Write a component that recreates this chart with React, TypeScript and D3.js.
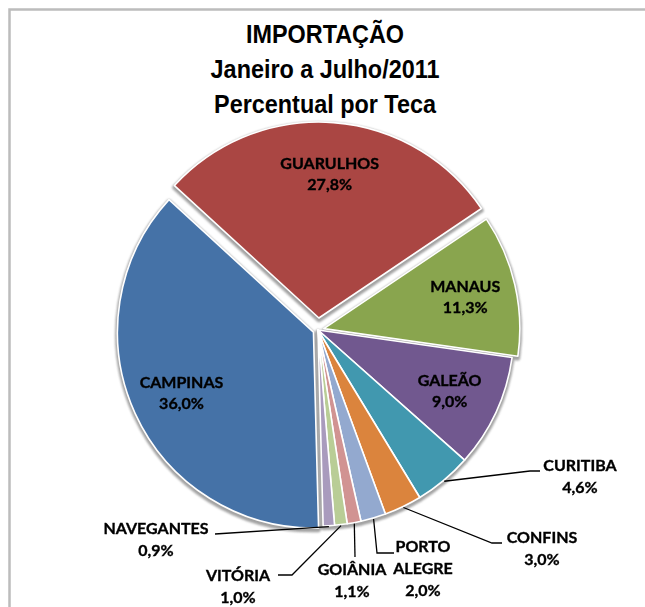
import * as d3 from "d3";

// data
const categories = ["CAMPINAS", "GUARULHOS", "MANAUS", "GALEÃO", "CURITIBA", "CONFINS", "PORTO ALEGRE", "GOIÂNIA", "VITÓRIA", "NAVEGANTES"];
const shares = [36.0, 27.8, 11.3, 9.0, 4.6, 3.0, 2.0, 1.1, 1.0, 0.9];
const titleLines = ["IMPORTAÇÃO", "Janeiro a Julho/2011", "Percentual por Teca"];

// styling
const colors = ["#4572A7", "#AA4643", "#89A54E", "#71588F", "#4198AF", "#DB843D", "#93A9CF", "#D19392", "#B9CD96", "#A99BBD"];
const explode = [5, 12, 6, 0, 0, 0, 0, 0, 0, 0];

const width = 645;
const height = 607;
const cx = 318;
const cy = 330;
const R = 196;

// labels drawn outside the pie, with their leader line bends
const callouts: Record<string, { x: number; y: number; pts: [number, number][]; lines?: string[] }> = {
  CURITIBA: { x: 580, y: 471, pts: [[530, 471], [540, 471]] },
  CONFINS: { x: 542, y: 543, pts: [[492, 543], [502, 543]] },
  "PORTO ALEGRE": { x: 423, y: 552, pts: [[377, 553], [394, 553]], lines: ["PORTO", "ALEGRE"] },
  "GOIÂNIA": { x: 352, y: 575, pts: [[355, 557]] },
  "VITÓRIA": { x: 238, y: 581, pts: [[292, 575], [278, 575]] },
  NAVEGANTES: { x: 156, y: 534, pts: [[215, 534]] },
};

const fmt = (v: number) => d3.format(".1f")(v).replace(".", ",") + "%";
const labelFont = "Lato, 'Open Sans', sans-serif";
const titleFont = "'Liberation Sans', Arial, sans-serif";

export default function App() {
  const start = (178.5 * Math.PI) / 180;
  const pie = d3.pie<number>().sort(null).startAngle(start).endAngle(start + 2 * Math.PI);
  const arcs = pie(shares);
  const arc = d3.arc<d3.PieArcDatum<number>>().innerRadius(0).outerRadius(R);
  const labelArc = d3.arc<d3.PieArcDatum<number>>().innerRadius(R * 0.74).outerRadius(R * 0.74);

  const offset = (a: d3.PieArcDatum<number>, i: number) => {
    const mid = (a.startAngle + a.endAngle) / 2;
    return [Math.sin(mid) * explode[i], -Math.cos(mid) * explode[i]];
  };

  return (
    <svg width={width} height={height} style={{ position: "fixed", left: 0, top: 0, background: "#fff" }}>
      <defs>
        <filter id="shadow" x="-10%" y="-10%" width="120%" height="120%">
          <feGaussianBlur stdDeviation="1" />
        </filter>
      </defs>
      <rect x={9.5} y={9.5} width={700} height={700} fill="none" stroke="#bcbcbc" strokeWidth={2.5} />

      {titleLines.map((t, i) => (
        <text key={t} transform={`translate(325,${43 + i * 35}) scale(0.9,1)`} textAnchor="middle" fontFamily={titleFont} fontWeight="bold" fontSize={26} fill="#000">
          {t}
        </text>
      ))}

      <g transform={`translate(${cx},${cy})`}>
        <g filter="url(#shadow)" opacity={0.7}>
          {arcs.map((a, i) => {
            const [dx, dy] = offset(a, i);
            return (
              <path key={i} d={arc(a) ?? ""} transform={`translate(${dx},${dy + 2})`} fill="#7a7a7a" stroke="#7a7a7a" strokeWidth={4.5} strokeLinejoin="round" />
            );
          })}
        </g>
        {arcs.map((a, i) => {
          const [dx, dy] = offset(a, i);
          return (
            <path key={i} d={arc(a) ?? ""} transform={`translate(${dx},${dy})`} fill={colors[i]} stroke="#fff" strokeWidth={1.6} strokeLinejoin="round" />
          );
        })}
        {arcs.map((a, i) => {
          if (callouts[categories[i]]) return null;
          const [dx, dy] = offset(a, i);
          const [lx, ly] = labelArc.centroid(a);
          return (
            <text key={i} textAnchor="middle" fontFamily={labelFont} fontWeight="bold" fontSize={16} fill="#000" stroke="#000" strokeWidth={0.35}>
              <tspan x={lx + dx} y={ly + dy - 4.5}>{categories[i]}</tspan>
              <tspan x={lx + dx} y={ly + dy + 16.5}>{fmt(shares[i])}</tspan>
            </text>
          );
        })}
      </g>

      {arcs.map((a, i) => {
        const c = callouts[categories[i]];
        if (!c) return null;
        const mid = (a.startAngle + a.endAngle) / 2;
        const sx = cx + Math.sin(mid) * (R + 1);
        const sy = cy - Math.cos(mid) * (R + 1);
        const line = d3.line()([[sx, sy], ...c.pts]) ?? "";
        const lines = [...(c.lines ?? [categories[i]]), fmt(shares[i])];
        return (
          <g key={i}>
            <path d={line} fill="none" stroke="#000" strokeWidth={1.3} />
            <text textAnchor="middle" fontFamily={labelFont} fontWeight="bold" fontSize={16} fill="#000" stroke="#000" strokeWidth={0.35}>
              {lines.map((t, j) => (
                <tspan key={j} x={c.x} y={c.y + j * 22}>{t}</tspan>
              ))}
            </text>
          </g>
        );
      })}
    </svg>
  );
}
